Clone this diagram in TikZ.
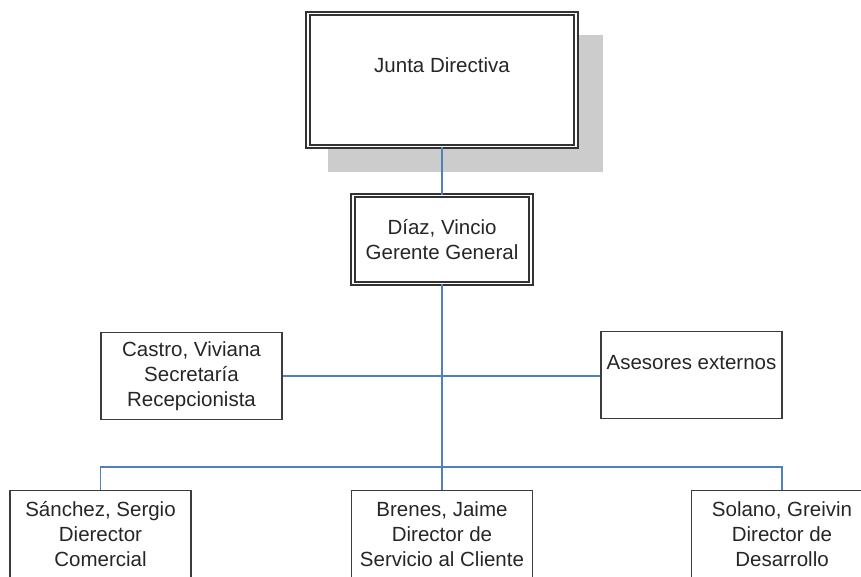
\documentclass[tikz,border=0pt]{standalone}
\usepackage{fontspec}
\setmainfont{Liberation Sans}
\usepackage{tikz}
\usetikzlibrary{shadows}

\definecolor{linkblue}{RGB}{79,129,189}
\definecolor{boxgray}{RGB}{60,60,60}

\begin{document}
\begin{tikzpicture}[x=1pt,y=-1pt,
    every node/.style={font=\fontsize{20.5}{25}\selectfont, text=black!85, align=center},
    unitbox/.style={draw=boxgray, line width=1.6pt, minimum width=181pt, minimum height=87pt, inner sep=2pt},
    headbox/.style={draw=black!80, line width=1.8pt, double=white, double distance=1.6pt, fill=white},
    link/.style={draw=linkblue, line width=1.4pt}]
  \useasboundingbox (0,0) rectangle (861,576);
  \clip (0,0) rectangle (861,576);

  \node[headbox, minimum width=268pt, minimum height=133pt, text height=15pt, text depth=30pt,
        drop shadow={shadow xshift=23pt, shadow yshift=-23pt, shadow scale=1.025, fill=black!20, opacity=1}]
    (junta) at (442,80) {Junta Directiva};
  \node[headbox, minimum width=178pt, minimum height=88pt] (gerente) at (442,239.5)
    {D\'iaz, Vincio\\Gerente General};

  \node[unitbox] (secretaria) at (191.5,376) {Castro, Viviana\\Secretar\'ia\\Recepcionista};
  \node[unitbox, text height=15pt, text depth=26pt] (asesores) at (691.5,375) {Asesores externos};

  \node[unitbox] (comercial) at (100.5,534) {S\'anchez, Sergio\\Dierector\\Comercial};
  \node[unitbox] (servicio) at (442,534) {Brenes, Jaime\\Director de\\Servicio al Cliente};
  \node[unitbox] (desarrollo) at (782,534) {Solano, Greivin\\Director de\\Desarrollo};

  \coordinate (bus) at (442,467);

  \draw[link] (junta.south) -- (gerente.north);
  \draw[link] (gerente.south) -- (servicio.north);
  \draw[link] (secretaria.east) -- (secretaria.east -| asesores.west);
  \draw[link] (comercial.north) |- (bus) -| (desarrollo.north);
\end{tikzpicture}
\end{document}
